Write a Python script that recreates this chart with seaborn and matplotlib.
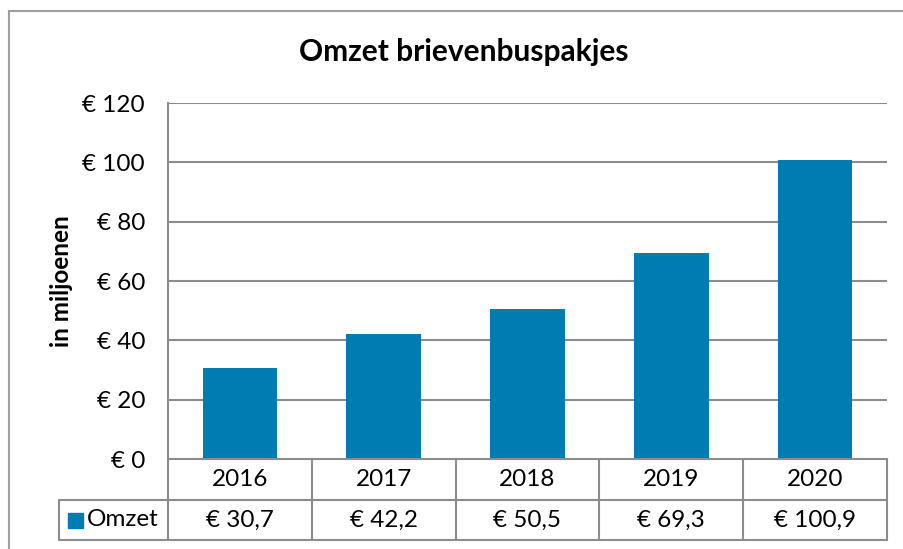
import matplotlib
matplotlib.use("Agg")
import matplotlib.pyplot as plt
import seaborn as sns
import pandas as pd
from matplotlib.patches import Rectangle

years = ["2016", "2017", "2018", "2019", "2020"]
omzet = [30.7, 42.2, 50.5, 69.3, 100.9]
value_labels = ["€ 30,7", "€ 42,2", "€ 50,5", "€ 69,3", "€ 100,9"]
yticks = [0, 20, 40, 60, 80, 100, 120]
ytick_labels = ["€ 0", "€ 20", "€ 40", "€ 60", "€ 80", "€ 100", "€ 120"]
series_name = "Omzet"
title = "Omzet brievenbuspakjes"
ylabel = "in miljoenen"

sns.set_theme(style="white")
plt.rcParams['font.family'] = ['Lato', 'DejaVu Sans']

W, H = 904, 549
fig = plt.figure(figsize=(W / 100, H / 100), dpi=100)

def fx(px):
    return px / W

def fy(py):
    return 1 - py / H

BAR = "#007DB0"
GRID = "#8c8c8c"
LW = 1.5
FS = 17.5

left, right, top, bottom = 168, 887, 103, 459
ax = fig.add_axes([fx(left), fy(bottom), fx(right - left), (bottom - top) / H])

df = pd.DataFrame({"year": years, "omzet": omzet})
sns.barplot(data=df, x="year", y="omzet", color=BAR, width=0.52, ax=ax,
            saturation=1, edgecolor="none")
ax.set_ylim(0, 120)
ax.set_xlim(-0.5, len(years) - 0.5)
ax.set_yticks(yticks)
ax.set_yticklabels(ytick_labels, fontsize=FS, color="black")
ax.tick_params(axis="y", length=0, pad=16.5)
ax.set_xticks([])
ax.set_xlabel("")
ax.set_ylabel("")
for y in yticks[1:]:
    ax.axhline(y, color=GRID, lw=LW, zorder=0)
for s in ["top", "right", "bottom"]:
    ax.spines[s].set_visible(False)
ax.spines["left"].set_color(GRID)
ax.spines["left"].set_linewidth(LW)
ax.set_axisbelow(True)

# outer border
fig.add_artist(plt.Line2D([fx(9), fx(9)], [fy(11), 0], color="#a0a0a0", lw=1.5))
fig.add_artist(plt.Line2D([fx(9), 1], [fy(11), fy(11)], color="#a0a0a0", lw=1.5))

# data table
row1_top, row_mid, row2_bot = 459, 500, 540
leg_left = 59
colw = (right - left) / len(years)
lines = [
    ([left, right], [row1_top, row1_top]),
    ([left, right], [row_mid, row_mid]),
    ([leg_left, left], [row_mid, row_mid]),
    ([leg_left, right], [row2_bot, row2_bot]),
    ([leg_left, leg_left], [row_mid, row2_bot]),
    ([left, left], [row1_top, row2_bot]),
]
for i in range(1, len(years) + 1):
    x = left + i * colw
    lines.append(([x, x], [row1_top, row2_bot]))
for xs, ys in lines:
    fig.add_artist(plt.Line2D([fx(v) for v in xs], [fy(v) for v in ys],
                              color=GRID, lw=LW))

for i, (yr, lab) in enumerate(zip(years, value_labels)):
    cx = left + (i + 0.5) * colw
    fig.text(fx(cx), fy((row1_top + row_mid) / 2), yr, ha="center", va="center",
             fontsize=FS, color="black")
    fig.text(fx(cx), fy((row_mid + row2_bot) / 2), lab, ha="center", va="center",
             fontsize=FS, color="black")

fig.add_artist(Rectangle((fx(68), fy(528)), fx(15), 15 / H, color=BAR))
fig.text(fx(87), fy((row_mid + row2_bot) / 2), series_name, ha="left", va="center",
         fontsize=FS, color="black")

fig.text(fx(464), fy(52), title, ha="center", va="center", fontsize=21.5,
         fontweight="bold", color="black")
fig.text(fx(62), fy(281), ylabel, ha="center", va="center", rotation=90,
         fontsize=FS, fontweight="bold", color="black")

fig.savefig("out.png", dpi=100, facecolor="white")
